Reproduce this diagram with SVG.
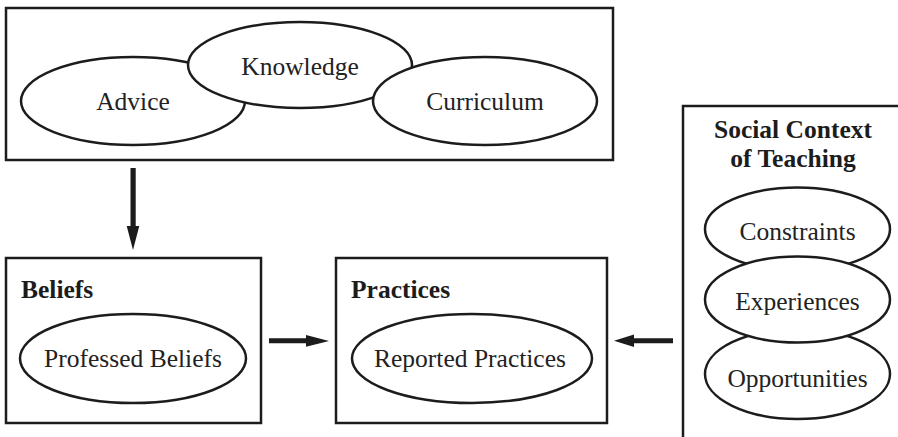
<svg xmlns="http://www.w3.org/2000/svg" width="898" height="437" viewBox="0 0 898 437">
  <style>
    .box { fill: #ffffff; stroke: #1c1c1c; stroke-width: 2.5; }
    .oval { fill: #ffffff; stroke: #1c1c1c; stroke-width: 2.5; }
    .label { font-family: "Liberation Serif", "Times New Roman", serif; font-size: 25.5px; fill: #222222; text-anchor: middle; }
    .title { font-family: "Liberation Serif", "Times New Roman", serif; font-size: 25.5px; font-weight: bold; fill: #1c1c1c; }
    .arrow { fill: #1c1c1c; stroke: none; }
  </style>
  <rect width="898" height="437" fill="#ffffff"/>

  <!-- Inputs: advice, knowledge, curriculum -->
  <g id="inputs">
    <rect class="box" x="6" y="8" width="607" height="152"/>
    <ellipse class="oval" cx="133" cy="101" rx="112" ry="44"/>
    <ellipse class="oval" cx="300" cy="65" rx="112" ry="43"/>
    <ellipse class="oval" cx="485" cy="101" rx="112" ry="44"/>
    <text class="label" x="133" y="110">Advice</text>
    <text class="label" x="300" y="75">Knowledge</text>
    <text class="label" x="485" y="110">Curriculum</text>
  </g>

  <!-- Beliefs -->
  <g id="beliefs">
    <rect class="box" x="6" y="258" width="255" height="165"/>
    <text class="title" x="21" y="298">Beliefs</text>
    <ellipse class="oval" cx="133" cy="358.5" rx="113" ry="44.5"/>
    <text class="label" x="133" y="367">Professed Beliefs</text>
  </g>

  <!-- Practices -->
  <g id="practices">
    <rect class="box" x="336" y="258" width="271" height="165"/>
    <text class="title" x="351" y="298">Practices</text>
    <ellipse class="oval" cx="472" cy="358.5" rx="120" ry="44.5"/>
    <text class="label" x="470" y="367">Reported Practices</text>
  </g>

  <!-- Social context of teaching (open to the right and bottom) -->
  <g id="social-context">
    <path d="M 683 437 V 106 H 898" fill="none" stroke="#1c1c1c" stroke-width="2.5"/>
    <text class="title" x="793" y="138" text-anchor="middle">Social Context</text>
    <text class="title" x="793" y="167" text-anchor="middle">of Teaching</text>
    <ellipse class="oval" cx="797.5" cy="229" rx="92.5" ry="41.5"/>
    <ellipse class="oval" cx="797.5" cy="374" rx="92.5" ry="45"/>
    <ellipse class="oval" cx="797.5" cy="299.5" rx="92.5" ry="43"/>
    <text class="label" x="797.5" y="240">Constraints</text>
    <text class="label" x="797.5" y="310">Experiences</text>
    <text class="label" x="797.5" y="387">Opportunities</text>
  </g>

  <!-- Connectors -->
  <g id="connectors">
    <path class="arrow" d="M 130.5 168 H 135.7 V 226 H 139.3 L 133 250 L 126.7 226 H 130.5 Z"/>
    <path class="arrow" d="M 269 338.3 H 306 V 335 L 329 341 L 306 346.7 V 343.3 H 269 Z"/>
    <path class="arrow" d="M 673 338.3 H 634 V 334.5 L 614 340.8 L 634 347 V 343.3 H 673 Z"/>
  </g>
</svg>
